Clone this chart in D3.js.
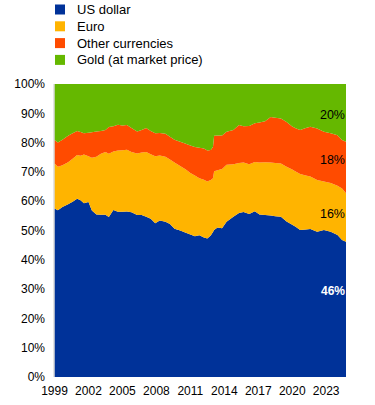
<!DOCTYPE html>
<html>
<head>
<meta charset="utf-8">
<script src="https://cdn.jsdelivr.net/npm/d3@7"></script>
<style>
  body { margin: 0; background: #fff; }
  svg { font-family: "Liberation Sans", Arial, sans-serif; }
</style>
</head>
<body>
<div id="chart"></div>
<script>
// shares of global official reserves (%)
var years = [1999.0, 1999.3, 1999.7, 2000.2, 2000.6, 2001.0, 2001.3, 2001.6, 2002.0, 2002.3,
  2002.7, 2003.1, 2003.5, 2003.8, 2004.2, 2004.6, 2005.0, 2005.4, 2005.8, 2006.3,
  2006.7, 2007.1, 2007.5, 2007.9, 2008.3, 2008.8, 2009.2, 2009.6, 2010.1, 2010.6,
  2011.0, 2011.4, 2011.8, 2012.2, 2012.5, 2012.8, 2013.0, 2013.1, 2013.4, 2013.8,
  2014.2, 2014.8, 2015.3, 2015.7, 2016.2, 2016.7, 2017.1, 2017.6, 2018.1, 2018.5,
  2019.0, 2019.5, 2020.0, 2020.3, 2020.7, 2021.2, 2021.6, 2022.2, 2022.8, 2023.4,
  2024.0, 2024.4, 2024.75];

var usd = [57.5, 56.9, 58.0, 59.0, 59.8, 60.8, 60.3, 59.3, 59.7, 56.8,
  55.5, 55.4, 55.4, 54.6, 57.0, 56.4, 56.4, 56.5, 56.2, 55.3,
  55.3, 54.7, 54.0, 52.5, 53.4, 53.0, 52.2, 50.6, 50.0, 49.2,
  48.6, 48.0, 48.4, 47.6, 47.3, 48.3, 49.5, 50.2, 51.0, 50.8,
  53.0, 54.7, 56.0, 56.3, 55.6, 56.6, 55.5, 55.3, 55.1, 54.9,
  54.7, 53.1, 52.0, 51.3, 50.2, 50.3, 50.5, 49.6, 50.2, 49.6,
  48.5, 46.8, 46.2];

var euro = [15.4, 14.9, 14.3, 14.3, 14.7, 15.0, 15.2, 16.6, 15.6, 18.0,
  19.7, 20.8, 21.4, 21.6, 20.0, 20.9, 21.0, 21.1, 20.6, 21.0,
  21.3, 22.1, 22.0, 22.8, 22.2, 22.2, 22.0, 22.6, 22.0, 21.6,
  21.0, 20.8, 19.4, 19.7, 19.4, 18.9, 18.3, 20.0, 19.6, 20.2,
  19.4, 17.9, 17.0, 16.9, 17.0, 16.8, 17.7, 18.0, 18.1, 18.1,
  18.2, 18.7, 18.8, 18.8, 19.1, 18.5, 17.9, 17.6, 16.5, 16.6,
  16.8, 17.5, 16.5];

var other = [8.0, 8.2, 8.7, 9.0, 8.7, 8.2, 8.1, 7.3, 8.1, 8.7,
  8.6, 7.8, 7.5, 9.1, 8.6, 8.8, 8.4, 8.4, 8.2, 7.5,
  7.7, 8.2, 8.0, 7.9, 7.7, 7.8, 7.8, 7.8, 8.3, 8.8,
  9.4, 9.7, 10.4, 10.7, 10.6, 10.3, 10.7, 12.1, 11.8, 11.4,
  11.3, 11.7, 13.0, 12.4, 13.1, 13.2, 13.7, 14.0, 15.5, 15.5,
  15.3, 15.2, 14.7, 14.8, 15.0, 16.2, 17.0, 17.6, 17.0, 17.0,
  17.2, 16.6, 17.6];

var gold = [19.1, 20.0, 19.0, 17.7, 16.8, 16.0, 16.4, 16.8, 16.6, 16.5,
  16.2, 16.0, 15.7, 14.7, 14.4, 13.9, 14.2, 14.0, 15.0, 16.2,
  15.7, 15.0, 16.0, 16.8, 16.7, 17.0, 18.0, 19.0, 19.7, 20.4,
  21.0, 21.5, 21.8, 22.0, 22.7, 22.5, 21.5, 17.7, 17.6, 17.6,
  16.3, 15.7, 14.0, 14.4, 14.3, 13.4, 13.1, 12.7, 11.3, 11.5,
  11.8, 13.0, 14.5, 15.1, 15.7, 15.0, 14.6, 15.2, 16.3, 16.8,
  17.5, 19.1, 19.7];

var seriesNames = ["US dollar", "Euro", "Other currencies", "Gold (at market price)"];
var seriesKeys = ["usd", "euro", "other", "gold"];
var seriesColors = ["#003299", "#FFB400", "#FF4B00", "#65B800"];
var xTicks = [1999, 2002, 2005, 2008, 2011, 2014, 2017, 2020, 2023];
var yTicks = [0, 10, 20, 30, 40, 50, 60, 70, 80, 90, 100];
// latest-value labels and the height (in %) where each sits
var endLabels = ["20%", "18%", "16%", "46%"];
var endLabelAt = [89.4, 74.1, 55.6, 29.4];
var endLabelColor = ["#000", "#000", "#000", "#fff"];
var endLabelBold = [false, false, false, true];

var width = 375, height = 405;
var plotLeft = 54.5, plotRight = 346, plotTop = 84, plotBottom = 377;

var rows = years.map(function(y, i) {
  return { year: y, usd: usd[i], euro: euro[i], other: other[i], gold: gold[i] };
});

var svg = d3.select("#chart").append("svg")
  .attr("width", width)
  .attr("height", height);

var xScale = d3.scaleLinear().domain([1999, 2024.75]).range([plotLeft, plotRight]);
var yScale = d3.scaleLinear().domain([0, 100]).range([plotBottom, plotTop]);

var stacked = d3.stack().keys(seriesKeys)(rows);

var area = d3.area()
  .x(function(d) { return xScale(d.data.year); })
  .y0(function(d) { return yScale(d[0]); })
  .y1(function(d) { return yScale(d[1]); });

svg.append("g").selectAll("path")
  .data(stacked).enter()
  .append("path")
  .attr("d", area)
  .attr("fill", function(d, i) { return seriesColors[i]; });

/* left axis line */
svg.append("line")
  .attr("x1", plotLeft - 0.5).attr("x2", plotLeft - 0.5)
  .attr("y1", plotTop).attr("y2", plotBottom)
  .attr("stroke", "#c8c8c8");

/* y labels */
svg.append("g").selectAll("text")
  .data(yTicks).enter()
  .append("text")
  .attr("x", 45)
  .attr("y", function(d) { return yScale(d); })
  .attr("dy", "0.35em")
  .attr("text-anchor", "end")
  .style("font-size", "12px")
  .attr("fill", "#000")
  .text(function(d) { return d + "%"; });

/* x labels */
svg.append("g").selectAll("text")
  .data(xTicks).enter()
  .append("text")
  .attr("x", function(d) { return xScale(d); })
  .attr("y", 395)
  .attr("text-anchor", "middle")
  .style("font-size", "12px")
  .attr("fill", "#000")
  .text(function(d) { return d; });

/* legend */
var legend = svg.append("g").selectAll("g")
  .data(seriesNames).enter()
  .append("g")
  .attr("transform", function(d, i) { return "translate(55," + (9.5 + i * 16.8) + ")"; });

legend.append("rect")
  .attr("x", 0).attr("y", -5)
  .attr("width", 10).attr("height", 10)
  .attr("fill", function(d, i) { return seriesColors[i]; });

legend.append("text")
  .attr("x", 22)
  .attr("dy", "0.35em")
  .style("font-size", "13px")
  .attr("fill", "#000")
  .text(function(d) { return d; });

/* latest-value labels at the right edge */
svg.append("g").selectAll("text")
  .data(endLabels).enter()
  .append("text")
  .attr("x", plotRight - 1)
  .attr("y", function(d, i) { return yScale(endLabelAt[i]); })
  .attr("dy", "0.35em")
  .attr("text-anchor", "end")
  .style("font-size", function(d, i) { return endLabelBold[i] ? "12px" : "12.5px"; })
  .style("font-weight", function(d, i) { return endLabelBold[i] ? "bold" : "normal"; })
  .attr("fill", function(d, i) { return endLabelColor[i]; })
  .text(function(d) { return d; });
</script>
</body>
</html>
